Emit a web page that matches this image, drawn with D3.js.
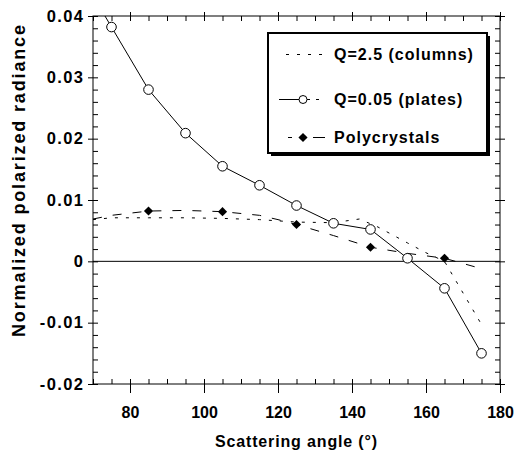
<!DOCTYPE html>
<html><head><meta charset="utf-8">
<script src="https://cdn.jsdelivr.net/npm/d3@7"></script>
<style>
body{margin:0;background:#fff;}
text{font-family:"Liberation Sans",Arial,sans-serif;font-weight:bold;fill:#000;}
</style></head>
<body><svg id="c" width="514" height="451"></svg>
<script>
// ---- data ----
const xTicks=[80,100,120,140,160,180];
const yTicks=[0.04,0.03,0.02,0.01,0,-0.01,-0.02];
const yTickLabels=["0.04","0.03","0.02","0.01","0","-0.01","-0.02"];
const plateAngles=[70,75,85,95,105,115,125,135,145,155,165,175];
const plateValues=[0.0433,0.0382,0.0280,0.0209,0.0155,0.0124,0.0091,0.0062,0.0052,0.0005,-0.0044,-0.0150];
const plateMarkerAngles=[75,85,95,105,115,125,135,145,155,165,175];
const columnAngles=[70,75,85,95,105,115,125,135,142,147,155,160,165,175];
const columnValues=[0.0068,0.0071,0.0071,0.0071,0.0070,0.0068,0.0064,0.0063,0.0069,0.0056,0.0030,0.0014,0.0000,-0.0103];
const polyAngles=[70,75,85,95,105,115,120,125,135,145,155,165,175];
const polyValues=[0.0069,0.0075,0.0082,0.0083,0.0081,0.0075,0.0068,0.0060,0.0042,0.0023,0.0013,0.0005,-0.0012];
const polyMarkerAngles=[85,105,125,145,165];
const legendLabels=["Q=2.5 (columns)","Q=0.05 (plates)","Polycrystals"];
const xTitle="Scattering angle (°)";
const yTitle="Normalized polarized radiance";

const svg=d3.select("#c");
const L=93,R=500,T=16,B=384;
const x=d3.scaleLinear().domain([70,180]).range([L,R]);
const y=d3.scaleLinear().domain([-0.02,0.04]).range([B,T]);

const xMinor=d3.range(70,180.1,5);
const yMinor=d3.range(-0.02,0.0401,0.002).map(v=>+v.toFixed(3));

function styleAxis(g){g.select(".domain").remove();g.selectAll("line").attr("stroke","#000").attr("stroke-width",1);}

// minor ticks
svg.append("g").attr("transform",`translate(0,${B})`).call(d3.axisBottom(x).tickValues(xMinor).tickSize(-5).tickFormat("")).call(styleAxis);
svg.append("g").attr("transform",`translate(0,${T})`).call(d3.axisTop(x).tickValues(xMinor).tickSize(-5).tickFormat("")).call(styleAxis);
svg.append("g").attr("transform",`translate(${L},0)`).call(d3.axisLeft(y).tickValues(yMinor).tickSize(-5).tickFormat("")).call(styleAxis);
svg.append("g").attr("transform",`translate(${R},0)`).call(d3.axisRight(y).tickValues(yMinor).tickSize(-5).tickFormat("")).call(styleAxis);
// major ticks
const gx=svg.append("g").attr("transform",`translate(0,${B})`).call(d3.axisBottom(x).tickValues(xTicks).tickSize(9).tickPadding(14).tickFormat(d3.format("d"))).call(styleAxis);
gx.selectAll("text").attr("font-size",16).attr("font-family","Liberation Sans, Arial, sans-serif").attr("font-weight","bold");
svg.append("g").attr("transform",`translate(0,${T})`).call(d3.axisTop(x).tickValues(xTicks).tickSize(4).tickFormat("")).call(styleAxis);
const gy=svg.append("g").attr("transform",`translate(${L},0)`).call(d3.axisLeft(y).tickValues(yTicks).tickSize(5).tickPadding(5).tickFormat((d,i)=>yTickLabels[i])).call(styleAxis);
gy.selectAll("text").attr("font-size",16.5).attr("font-family","Liberation Sans, Arial, sans-serif").attr("font-weight","bold").attr("letter-spacing","1.4px").attr("dx","1.4");
svg.append("g").attr("transform",`translate(${R},0)`).call(d3.axisRight(y).tickValues(yTicks).tickSize(5).tickFormat("")).call(styleAxis);

// frame
svg.append("rect").attr("x",L).attr("y",T).attr("width",R-L).attr("height",B-T).attr("fill","none").attr("stroke","#000").attr("stroke-width",1);

// zero line
svg.append("line").attr("x1",L).attr("x2",R).attr("y1",y(0)).attr("y2",y(0)).attr("stroke","#000").attr("stroke-width",1);

svg.append("clipPath").attr("id","clip").append("rect").attr("x",L).attr("y",T).attr("width",R-L).attr("height",B-T);
const plot=svg.append("g").attr("clip-path","url(#clip)");
const line=d3.line().x(d=>x(d[0])).y(d=>y(d[1]));

plot.append("path").datum(d3.zip(columnAngles,columnValues)).attr("d",line).attr("fill","none").attr("stroke","#000").attr("stroke-width",1).attr("stroke-dasharray","3,8");
plot.append("path").datum(d3.zip(polyAngles,polyValues)).attr("d",line).attr("fill","none").attr("stroke","#000").attr("stroke-width",1).attr("stroke-dasharray","9,11");
plot.append("path").datum(d3.zip(plateAngles,plateValues)).attr("d",line).attr("fill","none").attr("stroke","#000").attr("stroke-width",1);

const platePts=d3.zip(plateAngles,plateValues).filter(d=>plateMarkerAngles.includes(d[0]));
plot.selectAll("circle.pl").data(platePts).join("circle").attr("cx",d=>x(d[0])).attr("cy",d=>y(d[1])).attr("r",4.8).attr("fill","#fff").attr("stroke","#000").attr("stroke-width",1);
const diamond=d3.symbol().type(d3.symbolSquare).size(42);
const polyPts=d3.zip(polyAngles,polyValues).filter(d=>polyMarkerAngles.includes(d[0]));
plot.selectAll("path.dm").data(polyPts).join("path").attr("d",diamond).attr("transform",d=>`translate(${x(d[0])},${y(d[1])}) rotate(45)`).attr("fill","#000");

// legend
const lg=svg.append("g");
lg.append("rect").attr("x",271).attr("y",36).attr("width",219).attr("height",120).attr("fill","#000");
lg.append("rect").attr("x",268).attr("y",33).attr("width",219).attr("height",120).attr("fill","#fff").attr("stroke","#000").attr("stroke-width",2);
const baselines=[60,105,143];
legendLabels.forEach((t,i)=>{
  lg.append("text").attr("x",334).attr("y",baselines[i]).attr("font-size",16).attr("letter-spacing","1px").text(t);
});
const sy=baselines.map(b=>b-5.5);
lg.append("line").attr("x1",280).attr("x2",326).attr("y1",sy[0]).attr("y2",sy[0]).attr("stroke","#000").attr("stroke-dasharray","3,8").attr("stroke-dashoffset","-6");
lg.append("line").attr("x1",279).attr("x2",310).attr("y1",sy[1]).attr("y2",sy[1]).attr("stroke","#000");
lg.append("line").attr("x1",316).attr("x2",319).attr("y1",sy[1]).attr("y2",sy[1]).attr("stroke","#000");
lg.append("circle").attr("cx",303).attr("cy",sy[1]).attr("r",4).attr("fill","#fff").attr("stroke","#000");
lg.append("line").attr("x1",288).attr("x2",292).attr("y1",sy[2]).attr("y2",sy[2]).attr("stroke","#000");
lg.append("line").attr("x1",313).attr("x2",325).attr("y1",sy[2]).attr("y2",sy[2]).attr("stroke","#000");
lg.append("path").attr("d",diamond).attr("transform",`translate(303,${sy[2]}) rotate(45)`).attr("fill","#000");

// titles
svg.append("text").attr("x",(L+R)/2).attr("y",447).attr("text-anchor","middle").attr("font-size",16).attr("letter-spacing","0.85px").text(xTitle);
svg.append("text").attr("transform","translate(25,181) rotate(-90)").attr("text-anchor","middle").attr("font-size",18).attr("textLength",312).attr("lengthAdjust","spacing").text(yTitle);
</script></body></html>
